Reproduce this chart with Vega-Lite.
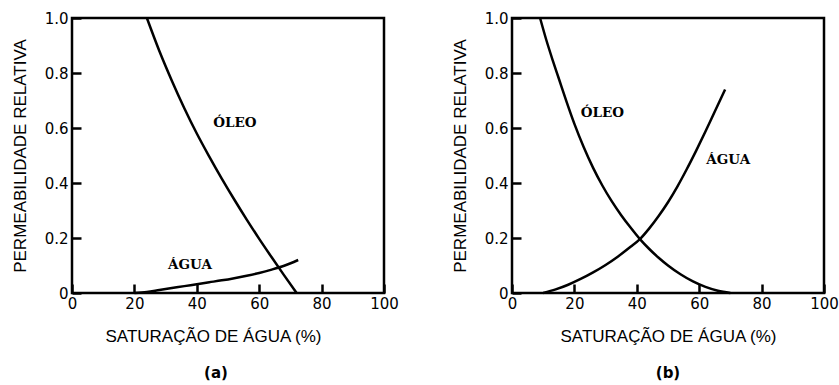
{
  "$schema": "https://vega.github.io/schema/vega-lite/v6.json",
  "background": "white",
  "padding": {"left": 9, "top": 9, "right": 0, "bottom": 5},
  "datasets": {
    "curvas": [
      {"painel": "a", "fase": "oleo", "saturacao": 24, "permeabilidade": 1.0},
      {"painel": "a", "fase": "oleo", "saturacao": 28, "permeabilidade": 0.88},
      {"painel": "a", "fase": "oleo", "saturacao": 32, "permeabilidade": 0.772},
      {"painel": "a", "fase": "oleo", "saturacao": 36, "permeabilidade": 0.672},
      {"painel": "a", "fase": "oleo", "saturacao": 40, "permeabilidade": 0.58},
      {"painel": "a", "fase": "oleo", "saturacao": 44, "permeabilidade": 0.496},
      {"painel": "a", "fase": "oleo", "saturacao": 48, "permeabilidade": 0.416},
      {"painel": "a", "fase": "oleo", "saturacao": 52, "permeabilidade": 0.34},
      {"painel": "a", "fase": "oleo", "saturacao": 56, "permeabilidade": 0.267},
      {"painel": "a", "fase": "oleo", "saturacao": 60, "permeabilidade": 0.197},
      {"painel": "a", "fase": "oleo", "saturacao": 64, "permeabilidade": 0.13},
      {"painel": "a", "fase": "oleo", "saturacao": 68, "permeabilidade": 0.064},
      {"painel": "a", "fase": "oleo", "saturacao": 72, "permeabilidade": 0.0},
      {"painel": "a", "fase": "agua", "saturacao": 20, "permeabilidade": 0.0},
      {"painel": "a", "fase": "agua", "saturacao": 24, "permeabilidade": 0.004},
      {"painel": "a", "fase": "agua", "saturacao": 28, "permeabilidade": 0.011},
      {"painel": "a", "fase": "agua", "saturacao": 32, "permeabilidade": 0.018},
      {"painel": "a", "fase": "agua", "saturacao": 36, "permeabilidade": 0.025},
      {"painel": "a", "fase": "agua", "saturacao": 40, "permeabilidade": 0.032},
      {"painel": "a", "fase": "agua", "saturacao": 44, "permeabilidade": 0.039},
      {"painel": "a", "fase": "agua", "saturacao": 48, "permeabilidade": 0.046},
      {"painel": "a", "fase": "agua", "saturacao": 52, "permeabilidade": 0.054},
      {"painel": "a", "fase": "agua", "saturacao": 56, "permeabilidade": 0.063},
      {"painel": "a", "fase": "agua", "saturacao": 60, "permeabilidade": 0.073},
      {"painel": "a", "fase": "agua", "saturacao": 64, "permeabilidade": 0.085},
      {"painel": "a", "fase": "agua", "saturacao": 68, "permeabilidade": 0.099},
      {"painel": "a", "fase": "agua", "saturacao": 72.5, "permeabilidade": 0.12},
      {"painel": "b", "fase": "oleo", "saturacao": 9, "permeabilidade": 1.0},
      {"painel": "b", "fase": "oleo", "saturacao": 11, "permeabilidade": 0.92},
      {"painel": "b", "fase": "oleo", "saturacao": 13, "permeabilidade": 0.848},
      {"painel": "b", "fase": "oleo", "saturacao": 15, "permeabilidade": 0.78},
      {"painel": "b", "fase": "oleo", "saturacao": 17.5, "permeabilidade": 0.695},
      {"painel": "b", "fase": "oleo", "saturacao": 20, "permeabilidade": 0.615},
      {"painel": "b", "fase": "oleo", "saturacao": 23, "permeabilidade": 0.53},
      {"painel": "b", "fase": "oleo", "saturacao": 26, "permeabilidade": 0.455},
      {"painel": "b", "fase": "oleo", "saturacao": 29, "permeabilidade": 0.39},
      {"painel": "b", "fase": "oleo", "saturacao": 32, "permeabilidade": 0.333},
      {"painel": "b", "fase": "oleo", "saturacao": 35, "permeabilidade": 0.283},
      {"painel": "b", "fase": "oleo", "saturacao": 38, "permeabilidade": 0.238},
      {"painel": "b", "fase": "oleo", "saturacao": 41, "permeabilidade": 0.196},
      {"painel": "b", "fase": "oleo", "saturacao": 44, "permeabilidade": 0.16},
      {"painel": "b", "fase": "oleo", "saturacao": 47, "permeabilidade": 0.128},
      {"painel": "b", "fase": "oleo", "saturacao": 50, "permeabilidade": 0.1},
      {"painel": "b", "fase": "oleo", "saturacao": 54, "permeabilidade": 0.068},
      {"painel": "b", "fase": "oleo", "saturacao": 58, "permeabilidade": 0.042},
      {"painel": "b", "fase": "oleo", "saturacao": 62, "permeabilidade": 0.022},
      {"painel": "b", "fase": "oleo", "saturacao": 66, "permeabilidade": 0.008},
      {"painel": "b", "fase": "oleo", "saturacao": 70, "permeabilidade": 0.0},
      {"painel": "b", "fase": "agua", "saturacao": 10, "permeabilidade": 0.0},
      {"painel": "b", "fase": "agua", "saturacao": 14, "permeabilidade": 0.013},
      {"painel": "b", "fase": "agua", "saturacao": 18, "permeabilidade": 0.03},
      {"painel": "b", "fase": "agua", "saturacao": 22, "permeabilidade": 0.051},
      {"painel": "b", "fase": "agua", "saturacao": 26, "permeabilidade": 0.075},
      {"painel": "b", "fase": "agua", "saturacao": 30, "permeabilidade": 0.102},
      {"painel": "b", "fase": "agua", "saturacao": 34, "permeabilidade": 0.133},
      {"painel": "b", "fase": "agua", "saturacao": 38, "permeabilidade": 0.168},
      {"painel": "b", "fase": "agua", "saturacao": 41, "permeabilidade": 0.196},
      {"painel": "b", "fase": "agua", "saturacao": 44, "permeabilidade": 0.235},
      {"painel": "b", "fase": "agua", "saturacao": 47, "permeabilidade": 0.28},
      {"painel": "b", "fase": "agua", "saturacao": 50, "permeabilidade": 0.33},
      {"painel": "b", "fase": "agua", "saturacao": 53, "permeabilidade": 0.387},
      {"painel": "b", "fase": "agua", "saturacao": 56, "permeabilidade": 0.45},
      {"painel": "b", "fase": "agua", "saturacao": 59, "permeabilidade": 0.517},
      {"painel": "b", "fase": "agua", "saturacao": 62, "permeabilidade": 0.587},
      {"painel": "b", "fase": "agua", "saturacao": 65, "permeabilidade": 0.66},
      {"painel": "b", "fase": "agua", "saturacao": 68.3, "permeabilidade": 0.74}
    ],
    "rotulos": [
      {"painel": "a", "texto": "ÓLEO", "saturacao": 52.2, "permeabilidade": 0.62},
      {"painel": "a", "texto": "ÁGUA", "saturacao": 37.8, "permeabilidade": 0.102},
      {"painel": "b", "texto": "ÓLEO", "saturacao": 29, "permeabilidade": 0.656},
      {"painel": "b", "texto": "ÁGUA", "saturacao": 69.3, "permeabilidade": 0.482}
    ]
  },
  "spacing": 128,
  "bounds": "flush",
  "hconcat": [
    {
      "width": 312,
      "height": 275,
      "title": {"text": "(a)", "orient": "bottom", "dx": -12},
      "layer": [
        {
          "data": {"name": "curvas"},
          "transform": [{"filter": "datum.painel == 'a'"}],
          "mark": {"type": "line", "color": "black", "strokeWidth": 2.5, "interpolate": "monotone"},
          "encoding": {
            "x": {"field": "saturacao", "type": "quantitative", "scale": {"domain": [0, 100]},
                  "axis": {"title": "SATURAÇÃO DE ÁGUA (%)", "titleX": 141, "values": [0, 20, 40, 60, 80, 100]}},
            "y": {"field": "permeabilidade", "type": "quantitative", "scale": {"domain": [0, 1]},
                  "axis": {"title": "PERMEABILIDADE RELATIVA", "values": [0, 0.2, 0.4, 0.6, 0.8, 1.0]}},
            "detail": {"field": "fase"}
          }
        },
        {
          "data": {"name": "rotulos"},
          "transform": [{"filter": "datum.painel == 'a'"}],
          "mark": {"type": "text", "font": "DejaVu Serif", "fontWeight": "bold", "fontSize": 13.5, "color": "black"},
          "encoding": {
            "x": {"field": "saturacao", "type": "quantitative"},
            "y": {"field": "permeabilidade", "type": "quantitative"},
            "text": {"field": "texto"}
          }
        }
      ]
    },
    {
      "width": 312,
      "height": 275,
      "title": {"text": "(b)", "orient": "bottom"},
      "layer": [
        {
          "data": {"name": "curvas"},
          "transform": [{"filter": "datum.painel == 'b'"}],
          "mark": {"type": "line", "color": "black", "strokeWidth": 2.5, "interpolate": "monotone"},
          "encoding": {
            "x": {"field": "saturacao", "type": "quantitative", "scale": {"domain": [0, 100]},
                  "axis": {"title": "SATURAÇÃO DE ÁGUA (%)", "values": [0, 20, 40, 60, 80, 100]}},
            "y": {"field": "permeabilidade", "type": "quantitative", "scale": {"domain": [0, 1]},
                  "axis": {"title": "PERMEABILIDADE RELATIVA", "values": [0, 0.2, 0.4, 0.6, 0.8, 1.0]}},
            "detail": {"field": "fase"}
          }
        },
        {
          "data": {"name": "rotulos"},
          "transform": [{"filter": "datum.painel == 'b'"}],
          "mark": {"type": "text", "font": "DejaVu Serif", "fontWeight": "bold", "fontSize": 13.5, "color": "black"},
          "encoding": {
            "x": {"field": "saturacao", "type": "quantitative"},
            "y": {"field": "permeabilidade", "type": "quantitative"},
            "text": {"field": "texto"}
          }
        }
      ]
    }
  ],
  "config": {
    "view": {"stroke": "black", "strokeWidth": 2.5},
    "title": {"font": "DejaVu Sans", "fontSize": 15, "fontWeight": "bold", "color": "black", "offset": 22},
    "axis": {
      "domain": false,
      "grid": false,
      "ticks": true,
      "tickSize": 9,
      "tickWidth": 2.5,
      "tickColor": "black",
      "offset": -9,
      "zindex": 1,
      "labelFont": "DejaVu Sans",
      "labelFontSize": 15,
      "labelColor": "black",
      "titleFont": "Liberation Sans Narrow, Liberation Sans",
      "titleFontSize": 17,
      "titleFontWeight": "normal",
      "titleColor": "black"
    },
    "axisX": {
      "labelFlush": false,
      "labelPadding": 3,
      "titlePadding": 17
    },
    "axisY": {
      "labelExpr": "datum.value == 0 ? '0' : format(datum.value, '.1f')",
      "labelPadding": 4,
      "titlePadding": 15
    }
  }
}
